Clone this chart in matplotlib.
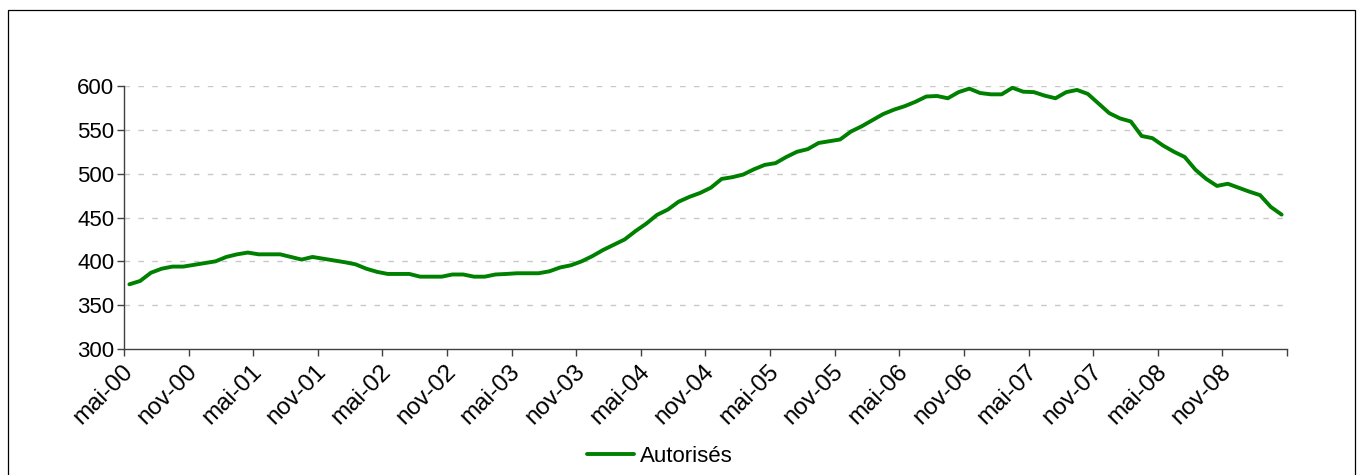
import numpy as np
import matplotlib
matplotlib.use("Agg")
import matplotlib.pyplot as plt
from matplotlib.patches import Rectangle

plt.rcParams['font.family'] = ['Liberation Sans', 'DejaVu Sans']

# Monthly series, mai-00 .. avr-09
values = [
    373.8, 377.6, 387, 391.6, 394, 394, 396, 398, 400, 405, 408, 410,
    408, 408, 408, 405, 402, 405, 403, 401, 399, 396.6, 391.6, 388,
    385.6, 385.6, 385.6, 382.5, 382.5, 382.5, 385, 385, 382.5, 382.5, 385, 385.6,
    386.4, 386.4, 386.4, 388.6, 393, 395.5, 400, 406, 413, 419, 425, 434.5,
    443, 453, 459, 468, 473.5, 478, 484, 494, 496, 499, 505, 510,
    512, 519, 525, 528, 535, 537, 539, 548, 554, 561, 568, 573,
    577, 582, 588, 588.6, 586, 593, 597, 592, 590.5, 590.5, 598, 593.5,
    593, 589, 586, 593, 595.5, 591, 580, 569, 563, 559.5, 543, 540.5,
    532, 525, 519, 504.5, 494, 486, 488.5, 484, 479.5, 475.5, 462, 453.3,
]
tick_labels = ['mai-00', 'nov-00', 'mai-01', 'nov-01', 'mai-02', 'nov-02',
               'mai-03', 'nov-03', 'mai-04', 'nov-04', 'mai-05', 'nov-05',
               'mai-06', 'nov-06', 'mai-07', 'nov-07', 'mai-08', 'nov-08']
series_name = 'Autorisés'
y_ticks = [300, 350, 400, 450, 500, 550, 600]

FS = 16
W, H = 1362, 475
fig = plt.figure(figsize=(W / 100, H / 100), dpi=100)
ax = fig.add_axes([124 / W, 1 - 349 / H, (1287 - 124) / W, (349 - 86) / H])

n = len(values)
x = np.arange(n) + 0.5
ax.plot(x, values, color='#008000', lw=2.8, solid_joinstyle='round',
        solid_capstyle='round', label=series_name, zorder=3)

ax.set_xlim(0, n)
ax.set_ylim(300, 600)
ax.set_yticks(y_ticks)
ax.set_yticklabels([str(v) for v in y_ticks])
for v in y_ticks[1:]:
    ax.axhline(v, color='#c8c8c8', lw=1.0, dashes=(4, 6), zorder=1)

ax.set_xticks(np.arange(0, n + 1, 6))
ax.set_xticklabels([])
ax.set_xticks(np.arange(0, len(tick_labels) * 6, 6) + 0.5, minor=True)
ax.set_xticklabels(tick_labels, minor=True, rotation=45, ha='right',
                   va='center', rotation_mode='anchor')
ax.tick_params(axis='x', which='minor', length=0, pad=14, labelsize=17.5)
ax.tick_params(axis='x', which='major', length=5, width=1, color='#404040',
               direction='out')
ax.tick_params(axis='y', length=5, width=1, color='#404040', direction='out',
               labelsize=FS, pad=2)

for s in ['top', 'right']:
    ax.spines[s].set_visible(False)
for s in ['left', 'bottom']:
    ax.spines[s].set_color('#404040')
    ax.spines[s].set_linewidth(1.0)

fig.legend(loc='center', bbox_to_anchor=(660 / W, 1 - 456 / H), frameon=False,
           fontsize=FS, handlelength=2.1, handletextpad=0.3)

fig.add_artist(Rectangle((8 / W, -0.05), (1355 - 8) / W, 1.05 - 10 / H,
                         transform=fig.transFigure, fill=False,
                         edgecolor='black', lw=0.9))

fig.savefig('out.png', dpi=100, facecolor='white')
